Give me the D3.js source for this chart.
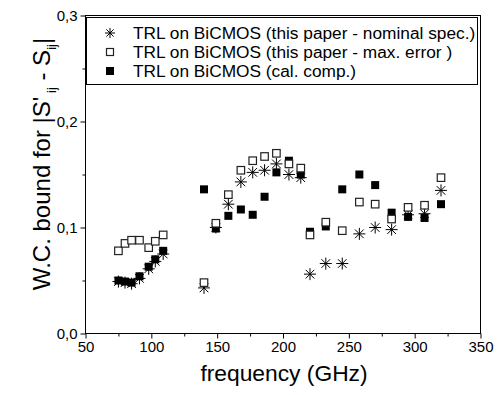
<!DOCTYPE html>
<html>
<head>
<meta charset="utf-8">
<script src="https://cdn.jsdelivr.net/npm/d3@7"></script>
<style>
  body { margin: 0; background: #fff; }
  svg { font-family: "Liberation Sans", Arial, sans-serif; }
</style>
</head>
<body>
<svg id="chart" width="502" height="395"></svg>
<script>
var width = 502;
var height = 395;

// frequencies (GHz), shared by the three series
var freq = [75, 80, 85, 91, 98, 103, 109,
            140, 149, 158.5, 168, 177, 186, 195, 204.5, 213.5,
            220.5, 232.5, 245, 258, 270, 282.5, 295, 307.5, 320];

var nominal = [0.049, 0.048, 0.047, 0.052, 0.061, 0.068, 0.075,
               0.043, 0.100, 0.122, 0.143, 0.152, 0.154, 0.160, 0.150, 0.147,
               0.056, 0.066, 0.066, 0.094, 0.100, 0.098, 0.112, 0.113, 0.135];

var maxError = [0.078, 0.085, 0.088, 0.088, 0.081, 0.087, 0.093,
                0.048, 0.104, 0.131, 0.154, 0.163, 0.167, 0.170, 0.160, 0.156,
                0.093, 0.105, 0.097, 0.124, 0.122, 0.108, 0.119, 0.121, 0.147];

var calComp = [0.050, 0.049, 0.048, 0.054, 0.063, 0.070, 0.078,
               0.136, 0.099, 0.111, 0.117, 0.112, 0.129, 0.152, 0.163, 0.150,
               0.096, 0.101, 0.136, 0.150, 0.140, 0.114, 0.110, 0.109, 0.122];

var xTicks = [50, 100, 150, 200, 250, 300, 350];
var xMinor = [75, 125, 175, 225, 275, 325];
var yTicks = [0, 0.1, 0.2, 0.3];
var yMinor = [0.05, 0.15, 0.25];

var legendLabels = ["TRL on BiCMOS (this paper - nominal spec.)",
                    "TRL on BiCMOS (this paper - max. error )",
                    "TRL on BiCMOS (cal. comp.)"];

var svg = d3.select("#chart");
var x = d3.scaleLinear().domain([50, 350]).range([85.5, 480.5]);
var y = d3.scaleLinear().domain([0, 0.3]).range([333.5, 15.5]);

var comma = function(d) { return d3.format(".1f")(d).replace(".", ","); };

function styleAxis(g) {
  g.select(".domain").remove();
  g.selectAll("line").attr("stroke", "#000");
  g.selectAll("text").attr("fill", "#000").style("font-size", "15px");
}

svg.append("g")
  .attr("transform", "translate(0," + y(0) + ")")
  .call(d3.axisBottom(x).tickValues(xTicks).tickSize(5).tickPadding(3).tickFormat(d3.format("d")))
  .call(styleAxis);
svg.append("g")
  .attr("transform", "translate(0," + y(0) + ")")
  .call(d3.axisBottom(x).tickValues(xMinor).tickSize(3).tickFormat(""))
  .call(styleAxis);
svg.append("g")
  .attr("transform", "translate(" + x(50) + ",0)")
  .call(d3.axisLeft(y).tickValues(yTicks).tickSize(5).tickPadding(3).tickFormat(comma))
  .call(styleAxis);
svg.append("g")
  .attr("transform", "translate(" + x(50) + ",0)")
  .call(d3.axisLeft(y).tickValues(yMinor).tickSize(3).tickFormat(""))
  .call(styleAxis);

// frame
svg.append("rect")
  .attr("x", x(50)).attr("y", y(0.3))
  .attr("width", x(350) - x(50)).attr("height", y(0) - y(0.3))
  .attr("fill", "none").attr("stroke", "#000").attr("stroke-width", 1);

// markers
function asterisk(g, cx, cy, r) {
  var p = "M" + cx + "," + (cy - r) + "V" + (cy + r) +
          "M" + (cx - r) + "," + cy + "H" + (cx + r) +
          "M" + (cx - r * 0.72) + "," + (cy - r * 0.72) + "L" + (cx + r * 0.72) + "," + (cy + r * 0.72) +
          "M" + (cx - r * 0.72) + "," + (cy + r * 0.72) + "L" + (cx + r * 0.72) + "," + (cy - r * 0.72);
  g.append("path").attr("d", p).attr("stroke", "#000").attr("stroke-width", 1).attr("fill", "none");
}
function filledSq(g, cx, cy, s) {
  g.append("rect").attr("x", cx - s / 2).attr("y", cy - s / 2)
    .attr("width", s).attr("height", s).attr("fill", "#000");
}
function openSq(g, cx, cy, s) {
  g.append("rect").attr("x", cx - s / 2).attr("y", cy - s / 2)
    .attr("width", s).attr("height", s).attr("fill", "#fff")
    .attr("stroke", "#222").attr("stroke-width", 1.2);
}

var marks = svg.append("g");
freq.forEach(function(f, i) { asterisk(marks, x(f), y(nominal[i]), 6); });
freq.forEach(function(f, i) { filledSq(marks, x(f), y(calComp[i]), 8); });
freq.forEach(function(f, i) { openSq(marks, x(f), y(maxError[i]), 7.5); });

// legend
var legend = svg.append("g");
legend.append("rect")
  .attr("x", 86.5).attr("y", 17.5).attr("width", 391).attr("height", 67)
  .attr("fill", "#fff").attr("stroke", "#000").attr("stroke-width", 1);
var rowY = [33, 52, 71];
asterisk(legend, 110, rowY[0], 5);
openSq(legend, 110, rowY[1], 7);
filledSq(legend, 110, rowY[2], 8);
legendLabels.forEach(function(t, i) {
  legend.append("text").attr("x", 133).attr("y", rowY[i] + 6)
    .style("font-size", "17.3px").attr("fill", "#000").text(t);
});

// axis titles
svg.append("text")
  .attr("x", (x(50) + x(350)) / 2 + 1).attr("y", 381)
  .attr("text-anchor", "middle").style("font-size", "22.8px")
  .text("frequency (GHz)");

var yt = svg.append("text")
  .attr("transform", "translate(50," + 164 + ") rotate(-90)")
  .attr("text-anchor", "middle").style("font-size", "24px");
yt.append("tspan").text("W.C. bound for |S'");
yt.append("tspan").attr("dy", 6).style("font-size", "13px").text(" ij");
yt.append("tspan").attr("dy", -6).text(" - S");
yt.append("tspan").attr("dy", 6).style("font-size", "13px").text("ij");
yt.append("tspan").attr("dy", -6).text("|");
</script>
</body>
</html>
